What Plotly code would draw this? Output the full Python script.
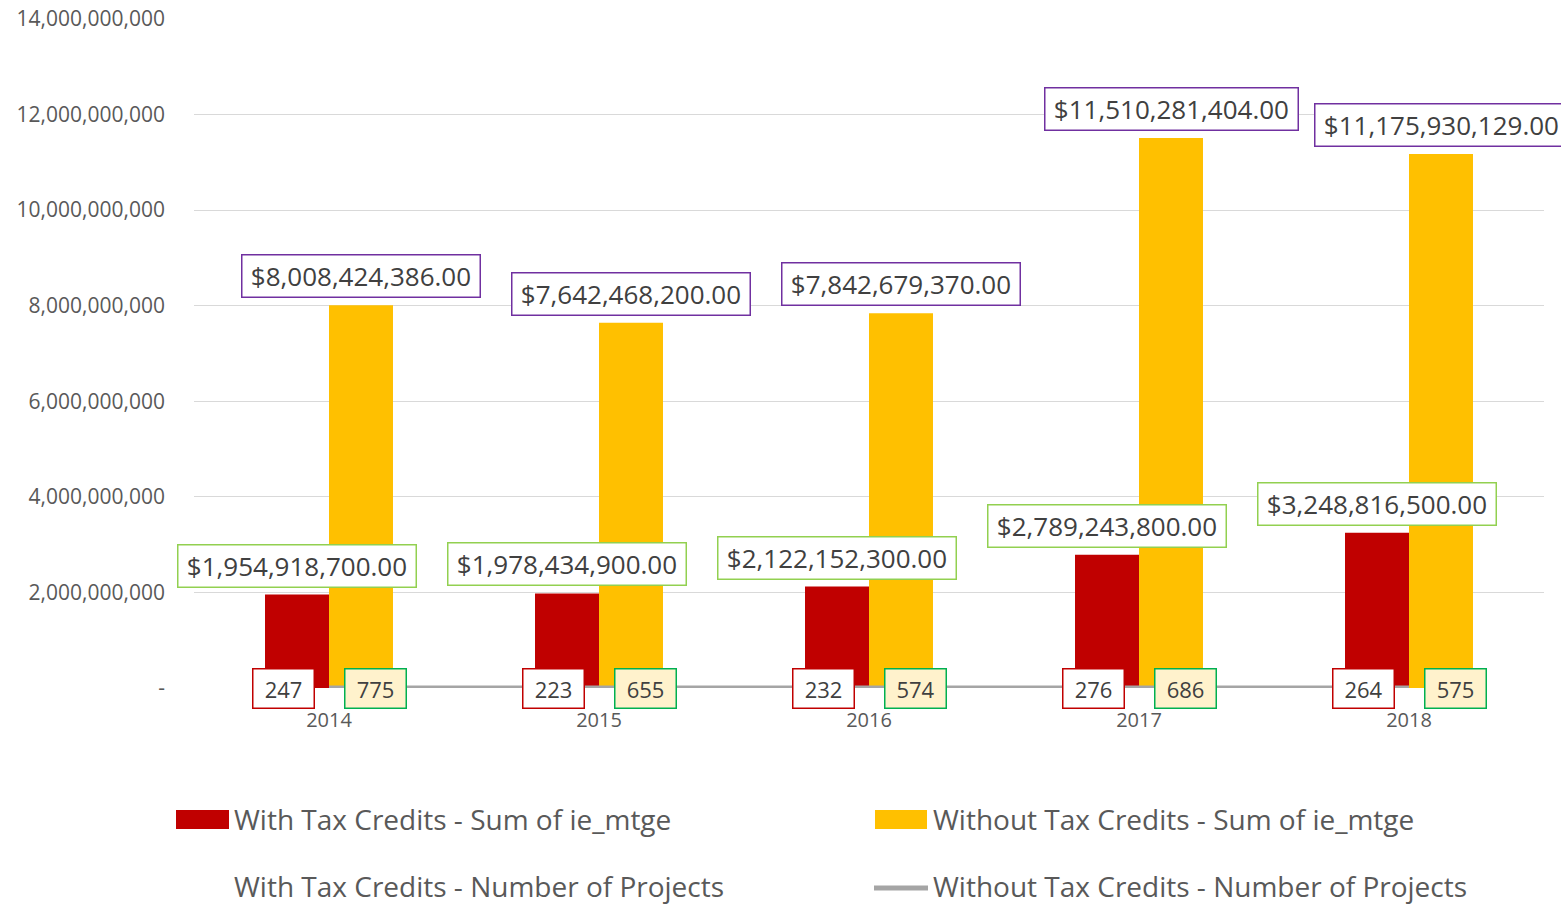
import plotly.graph_objects as go

years = ["2014", "2015", "2016", "2017", "2018"]
with_sum = [1954918700.00, 1978434900.00, 2122152300.00, 2789243800.00, 3248816500.00]
without_sum = [8008424386.00, 7642468200.00, 7842679370.00, 11510281404.00, 11175930129.00]
with_count = [247, 223, 232, 276, 264]
without_count = [775, 655, 574, 686, 575]

y_tickvals = [0, 2e9, 4e9, 6e9, 8e9, 10e9, 12e9, 14e9]
y_ticktext = ["-", "2,000,000,000", "4,000,000,000", "6,000,000,000", "8,000,000,000",
              "10,000,000,000", "12,000,000,000", "14,000,000,000"]

RED = "#C00000"
YELLOW = "#FFC000"
GRAY = "#A5A5A5"
TXT = "#404040"
FONT = "Open Sans"

L, R, T, B = 194, 17, 19, 217
W, H = 1561, 905
PW, PH = W - L - R, H - T - B

def px(x):
    return (x - L) / PW

def py(y):
    return (H - B - y) / PH

fig = go.Figure()
fig.add_trace(go.Bar(x=years, y=with_sum, name="With Tax Credits - Sum of ie_mtge",
                     marker=dict(color=RED, line=dict(width=0))))
fig.add_trace(go.Bar(x=years, y=without_sum, name="Without Tax Credits - Sum of ie_mtge",
                     marker=dict(color=YELLOW, line=dict(width=0))))
fig.add_trace(go.Scatter(x=years, y=with_count, mode="lines", cliponaxis=False,
                         name="With Tax Credits - Number of Projects",
                         line=dict(color="rgba(0,0,0,0)", width=0)))
fig.add_trace(go.Scatter(x=years, y=without_count, mode="lines", cliponaxis=False,
                         name="Without Tax Credits - Number of Projects",
                         line=dict(color=GRAY, width=5)))

annotations = []
def money(v):
    return "\u2009${:,.2f}\u2009".format(v)

for i, yr in enumerate(years):
    annotations.append(dict(x=i, y=with_sum[i], xref="x", yref="y", text=money(with_sum[i]),
                            showarrow=False, xshift=-32, yshift=7, yanchor="bottom", height=33,
                            font=dict(family=FONT, size=26, color=TXT),
                            bordercolor="#92D050", borderwidth=1.5, borderpad=4, bgcolor="white"))
    annotations.append(dict(x=i, y=without_sum[i], xref="x", yref="y", text=money(without_sum[i]),
                            showarrow=False, xshift=32, yshift=7, yanchor="bottom", height=33,
                            font=dict(family=FONT, size=26, color=TXT),
                            bordercolor="#7030A0", borderwidth=1.5, borderpad=4, bgcolor="white"))
    annotations.append(dict(x=i, y=with_count[i], xref="x", yref="y", text=str(with_count[i]),
                            showarrow=False, xshift=-46, yanchor="middle",
                            font=dict(family=FONT, size=22, color=TXT), width=52, height=30,
                            bordercolor=RED, borderwidth=1.5, borderpad=4, bgcolor="white"))
    annotations.append(dict(x=i, y=without_count[i], xref="x", yref="y", text=str(without_count[i]),
                            showarrow=False, xshift=46, yanchor="middle",
                            font=dict(family=FONT, size=22, color=TXT), width=52, height=30,
                            bordercolor="#00B050", borderwidth=1.5, borderpad=4, bgcolor="#FFF2CC"))

# manual legend
legend_items = [
    ("With Tax Credits - Sum of ie_mtge", 232, 819),
    ("Without Tax Credits - Sum of ie_mtge", 931, 819),
    ("With Tax Credits - Number of Projects", 232, 886),
    ("Without Tax Credits - Number of Projects", 931, 886),
]
for text, x0, y0 in legend_items:
    annotations.append(dict(x=px(x0), y=py(y0), xref="paper", yref="paper", text=text,
                            showarrow=False, xanchor="left", yanchor="middle",
                            font=dict(family=FONT, size=28, color="#595959")))

shapes = [
    dict(type="rect", xref="paper", yref="paper", x0=px(176), x1=px(229), y0=py(829), y1=py(810),
         fillcolor=RED, line=dict(width=0)),
    dict(type="rect", xref="paper", yref="paper", x0=px(875), x1=px(927), y0=py(829), y1=py(810),
         fillcolor=YELLOW, line=dict(width=0)),
    dict(type="line", xref="paper", yref="paper", x0=px(874), x1=px(928), y0=py(888), y1=py(888),
         line=dict(color=GRAY, width=5)),
]

fig.update_layout(
    width=W, height=H,
    margin=dict(l=L, r=R, t=T, b=B, pad=0, autoexpand=False),
    paper_bgcolor="white", plot_bgcolor="white",
    barmode="group", bargap=0.526, bargroupgap=0,
    showlegend=False,
    annotations=annotations, shapes=shapes,
    font=dict(family=FONT, color="#595959"),
)
fig.update_xaxes(type="category", range=[-0.5, 4.5], showgrid=False, showline=False, ticks="",
                 automargin=False,
                 tickfont=dict(family=FONT, size=20, color="#595959"), ticklabelstandoff=18)
fig.update_yaxes(range=[0, 14e9], tickvals=y_tickvals, ticktext=y_ticktext, automargin=False,
                 showgrid=True, gridcolor="#D9D9D9", gridwidth=1, zeroline=False, showline=False,
                 ticks="", tickfont=dict(family=FONT, size=21, color="#595959"), ticklabelstandoff=28)

fig.write_html("out.html")
